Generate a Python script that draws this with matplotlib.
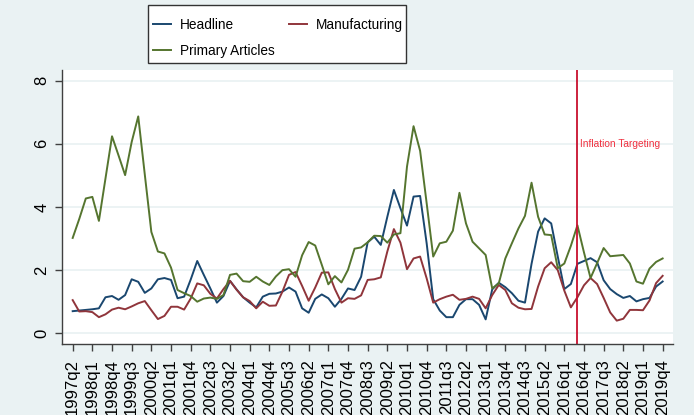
import numpy as np
import pandas as pd
import matplotlib
matplotlib.use('Agg')
import matplotlib.pyplot as plt
from matplotlib.patches import Rectangle

plt.rcParams['font.family'] = ['Liberation Sans', 'DejaVu Sans']

# quarterly volatility, 1997q2 - 2019q4
quarters = [f'{p.year}q{p.quarter}' for p in pd.period_range('1997Q2', '2019Q4', freq='Q')]

headline = [0.70, 0.72, 0.74, 0.76, 0.79, 1.14, 1.18, 1.06, 1.21, 1.71,
            1.63, 1.28, 1.42, 1.71, 1.75, 1.69, 1.11, 1.16, 1.70, 2.29,
            1.85, 1.42, 0.97, 1.18, 1.66, 1.39, 1.14, 0.97, 0.82, 1.16,
            1.25, 1.26, 1.32, 1.45, 1.32, 0.79, 0.65, 1.09, 1.23, 1.11,
            0.84, 1.09, 1.42, 1.37, 1.79, 2.88, 3.06, 2.80, 3.69, 4.54,
            3.96, 3.41, 4.33, 4.35, 2.85, 1.08, 0.72, 0.51, 0.51, 0.90,
            1.08, 1.08, 0.90, 0.44, 1.39, 1.60, 1.46, 1.27, 1.03, 0.97,
            2.20, 3.22, 3.64, 3.48, 2.43, 1.40, 1.56, 2.20, 2.29, 2.38,
            2.25, 1.68, 1.40, 1.24, 1.12, 1.18, 1.01, 1.08, 1.12, 1.48,
            1.64]

manufacturing = [1.05, 0.69, 0.70, 0.67, 0.51, 0.60, 0.75, 0.81, 0.76, 0.85,
                 0.95, 1.02, 0.73, 0.45, 0.55, 0.84, 0.84, 0.75, 1.10, 1.58,
                 1.52, 1.25, 1.10, 1.40, 1.66, 1.38, 1.14, 1.02, 0.79, 1.00,
                 0.87, 0.88, 1.32, 1.85, 1.94, 1.50, 1.03, 1.45, 1.92, 1.93,
                 1.40, 0.97, 1.11, 1.09, 1.20, 1.69, 1.71, 1.77, 2.59, 3.30,
                 2.87, 2.03, 2.37, 2.43, 1.74, 0.97, 1.08, 1.16, 1.22, 1.06,
                 1.09, 1.16, 1.09, 0.79, 1.21, 1.53, 1.37, 0.95, 0.81, 0.76,
                 0.77, 1.48, 2.06, 2.25, 2.00, 1.35, 0.82, 1.14, 1.52, 1.75,
                 1.56, 1.12, 0.66, 0.40, 0.46, 0.74, 0.74, 0.73, 1.04, 1.59,
                 1.82]

primary = [3.02, 3.62, 4.27, 4.32, 3.56, 4.90, 6.24, 5.63, 5.01, 6.06,
           6.87, 5.03, 3.21, 2.59, 2.53, 2.08, 1.37, 1.27, 1.18, 1.00,
           1.10, 1.13, 1.09, 1.21, 1.85, 1.89, 1.65, 1.63, 1.79, 1.64,
           1.53, 1.80, 2.00, 2.03, 1.79, 2.47, 2.89, 2.78, 2.17, 1.55,
           1.81, 1.61, 2.01, 2.68, 2.72, 2.88, 3.09, 3.08, 2.87, 3.13,
           3.17, 5.28, 6.56, 5.78, 4.12, 2.43, 2.85, 2.90, 3.25, 4.45,
           3.48, 2.90, 2.69, 2.48, 1.42, 1.58, 2.37, 2.85, 3.32, 3.72,
           4.77, 3.69, 3.13, 3.11, 2.06, 2.21, 2.77, 3.42, 2.56, 1.75,
           2.22, 2.70, 2.44, 2.46, 2.48, 2.21, 1.64, 1.57, 2.05, 2.26,
           2.37]

it_start = '2016q3'

W, H = 694, 415
fig = plt.figure(figsize=(W / 100, H / 100), dpi=100, facecolor='#eaf2f3')
ax = fig.add_axes([62 / W, 1 - 344 / H, 611 / W, 274 / H])
ax.set_facecolor('white')

x = np.arange(len(quarters))
l1, = ax.plot(x, headline, color='#1a476f', lw=1.4, label='Headline')
l2, = ax.plot(x, manufacturing, color='#90353b', lw=1.4, label='Manufacturing')
l3, = ax.plot(x, primary, color='#55752f', lw=1.4, label='Primary Articles')

xv = quarters.index(it_start)
ax.axvline(xv, color='#c8102e', lw=1.3)
ax.text(xv + 0.4, 6, 'Inflation Targeting', color='#f0303f', va='center',
        ha='left', fontsize=7.3)

ax.set_xlim(-1.63, 91.58)
ax.set_ylim(-0.34, 8.34)
ax.set_yticks([0, 2, 4, 6, 8])
ax.set_xticks(x[::3])
ax.set_xticklabels(quarters[::3], rotation=90, fontsize=12)
ax.tick_params(axis='x', direction='out', length=5, width=1, color='#404040', pad=6)
ax.tick_params(axis='y', direction='out', length=5, width=1, color='#404040',
               pad=4, labelsize=12, labelrotation=90)
for t in ax.get_yticklabels():
    t.set_va('center')

ax.grid(axis='y', color='#eaf2f3', lw=1.3)
ax.set_axisbelow(True)
for s in ['top', 'right']:
    ax.spines[s].set_visible(False)
for s in ['left', 'bottom']:
    ax.spines[s].set_color('#404040')
    ax.spines[s].set_linewidth(1)

# legend box drawn separately so the padding can be set freely
fig.patches.append(Rectangle((148 / W, 1 - 63 / H), 258 / W, 58 / H,
                             transform=fig.transFigure, facecolor='white',
                             edgecolor='#333333', lw=1, zorder=1))
leg = fig.legend([l1, l3, l2], ['Headline', 'Primary Articles', 'Manufacturing'],
                 ncol=2, loc='upper left', bbox_to_anchor=(153 / W, 1 - 17.5 / H),
                 fontsize=9.8, frameon=False, borderpad=0, borderaxespad=0,
                 handlelength=1.3, handletextpad=0.66, columnspacing=1.1,
                 labelspacing=0.93)
leg.set_zorder(2)

fig.savefig('out.png', dpi=100, facecolor=fig.get_facecolor())
